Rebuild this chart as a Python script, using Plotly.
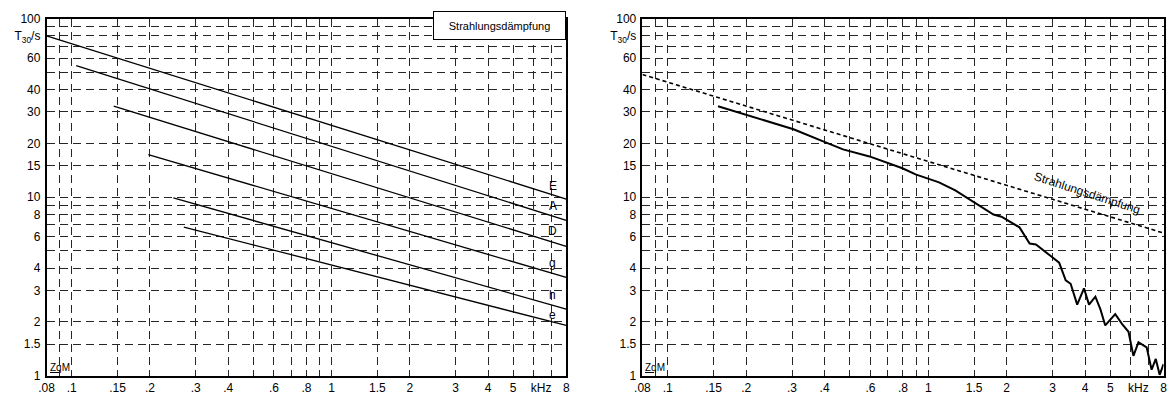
import math
import plotly.graph_objects as go

# ---------------- data ----------------
# left panel: straight decay lines per string (start / end points)
string_names = ["E", "A", "D", "g", "h", "e"]
string_f = [[0.08, 8], [0.104, 8], [0.145, 8], [0.197, 8], [0.246, 8], [0.27, 8]]
string_T = [[80, 9.75], [54.5, 7.4], [32.3, 5.3], [17.3, 3.55], [9.9, 2.36], [6.8, 1.91]]
label_f = 7.1
label_T = [11.6, 8.86, 6.49, 4.29, 2.84, 2.18]

# right panel: measured curve and radiation-damping line
meas_f = [0.156, 0.202, 0.304, 0.395, 0.471, 0.595, 0.708, 0.796, 0.894, 1.10, 1.27, 1.51,
          1.78, 1.91, 2.24, 2.45, 2.59, 2.96, 3.18, 3.37, 3.52, 3.73, 3.96, 4.14, 4.38, 4.58,
          4.78, 5.22, 5.54, 5.87, 6.13, 6.41, 6.89, 7.20, 7.47, 7.73, 8.0]
meas_T = [32.3, 28.9, 24.0, 20.5, 18.5, 16.9, 15.5, 14.5, 13.4, 12.1, 10.9, 9.25,
          7.99, 7.77, 6.77, 5.50, 5.43, 4.66, 4.29, 3.42, 3.27, 2.50, 3.08, 2.50, 2.77, 2.35,
          1.91, 2.21, 1.95, 1.76, 1.29, 1.54, 1.44, 1.08, 1.24, 1.01, 1.16]
rad_f = [0.08, 8]
rad_T = [48.6, 6.29]

# axis labels
x_labelvals = [0.08, 0.1, 0.15, 0.2, 0.3, 0.4, 0.6, 0.8, 1, 1.5, 2, 3, 4, 5, 6.4, 8]
x_labeltext = [".08", ".1", ".15", ".2", ".3", ".4", ".6", ".8", "1", "1.5", "2", "3", "4", "5", "kHz", "8"]
y_labelvals = [1, 1.5, 2, 3, 4, 6, 8, 10, 15, 20, 30, 40, 60, 80, 100]
y_labeltext = ["1", "1.5", "2", "3", "4", "6", "8", "10", "15", "20", "30", "40", "60", "T<sub>30</sub>/s", "100"]
# grid positions
x_gridvals = [0.09, 0.1, 0.15, 0.2, 0.3, 0.4, 0.5, 0.6, 0.7, 0.8, 0.9, 1, 1.5, 2, 3, 4, 5, 6, 7]
y_gridvals = [1.5, 2, 3, 4, 5, 6, 7, 8, 9, 10, 15, 20, 30, 40, 50, 60, 70, 80, 90]
box_text = "Strahlungsdämpfung"
logo_text = "<u>Zq</u>M"

# ---------------- figure ----------------
W, H = 1172, 400
FONT = "Liberation Sans, Arial, sans-serif"
fig = go.Figure()

for name, fx, ty in zip(string_names, string_f, string_T):
    fig.add_trace(go.Scatter(x=fx, y=ty, mode="lines", line=dict(color="black", width=1.3),
                             xaxis="x", yaxis="y", showlegend=False, name=name, hoverinfo="skip"))

fig.add_trace(go.Scatter(x=rad_f, y=rad_T, mode="lines",
                         line=dict(color="black", width=1.6, dash="4px,3px"),
                         xaxis="x2", yaxis="y2", showlegend=False, hoverinfo="skip"))
fig.add_trace(go.Scatter(x=meas_f, y=meas_T, mode="lines",
                         line=dict(color="black", width=2),
                         xaxis="x2", yaxis="y2", showlegend=False, hoverinfo="skip"))

# invisible traces so the grid-only overlay axes are drawn
for xa, ya in (("x3", "y3"), ("x4", "y4")):
    fig.add_trace(go.Scatter(x=rad_f, y=rad_T, mode="lines", opacity=0,
                             line=dict(width=0), xaxis=xa, yaxis=ya,
                             showlegend=False, hoverinfo="skip"))

XR = [math.log10(0.08), math.log10(8)]
YR = [0, 2]
TF = dict(family=FONT, size=12, color="black")
label_x = dict(type="log", range=XR, tickmode="array", tickvals=x_labelvals,
               ticktext=x_labeltext, showline=True, linecolor="black", linewidth=1.5,
               mirror=True, ticks="", zeroline=False, showgrid=False, tickfont=TF)
label_y = dict(type="log", range=YR, tickmode="array", tickvals=y_labelvals,
               ticktext=y_labeltext, showline=True, linecolor="black", linewidth=1.5,
               mirror=True, ticks="", zeroline=False, showgrid=False, ticklabelstandoff=2,
               tickfont=TF)
grid = dict(showgrid=True, gridcolor="#262626", gridwidth=1, griddash="8px,5px",
            showticklabels=False, ticks="", showline=False, zeroline=False)
grid_x = dict(type="log", range=XR, tickmode="array", tickvals=x_gridvals, **grid)
grid_y = dict(type="log", range=YR, tickmode="array", tickvals=y_gridvals, **grid)

x1 = [39 / W, 564 / W]
x2 = [641 / W, 1167.5 / W]
yd = [(H - 382) / H, (H - 12) / H]

fig.update_layout(
    width=W, height=H, margin=dict(l=0, r=0, t=0, b=0),
    paper_bgcolor="white", plot_bgcolor="white",
    font=dict(family=FONT, size=12, color="black"),
    xaxis=dict(domain=x1, anchor="y", **label_x),
    yaxis=dict(domain=yd, anchor="x", **label_y),
    xaxis2=dict(domain=x2, anchor="y2", **label_x),
    yaxis2=dict(domain=yd, anchor="x2", **label_y),
    xaxis3=dict(overlaying="x", anchor="y3", **grid_x),
    yaxis3=dict(overlaying="y", anchor="x3", **grid_y),
    xaxis4=dict(overlaying="x2", anchor="y4", **grid_x),
    yaxis4=dict(overlaying="y2", anchor="x4", **grid_y),
)

ann = []
for nm, ty in zip(string_names, label_T):
    ann.append(dict(x=math.log10(label_f), y=math.log10(ty), xref="x", yref="y", text=nm,
                    showarrow=False, font=dict(size=12, color="black")))
ann.append(dict(x=1, y=1, xref="x domain", yref="y domain", xanchor="right", yanchor="top",
                text=box_text, showarrow=False, font=dict(size=11, color="black"),
                bgcolor="white", bordercolor="black", borderwidth=1, borderpad=0,
                width=131, height=27, yshift=8))
ann.append(dict(x=math.log10(4.07), y=math.log10(10.6), xref="x2", yref="y2", text=box_text,
                showarrow=False, textangle=18, font=dict(size=12, color="black")))
for xr, yr in (("x domain", "y domain"), ("x2 domain", "y2 domain")):
    ann.append(dict(x=0, y=0, xref=xr, yref=yr, xanchor="left", yanchor="bottom",
                    text=logo_text, showarrow=False, xshift=1, yshift=1,
                    font=dict(size=10, color="black")))
fig.update_layout(annotations=ann)

fig.write_html("out.html", config={"displayModeBar": False},
               post_script="document.body.style.margin='0';")
